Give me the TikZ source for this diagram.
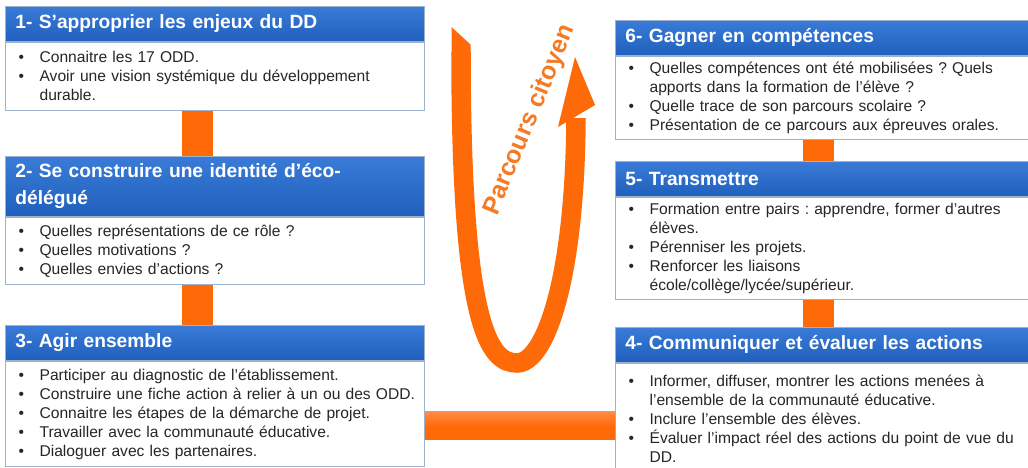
\documentclass[tikz,border=0pt]{standalone}
\usepackage{fontspec}
\setmainfont{Liberation Sans}
\usetikzlibrary{calc}
\definecolor{hdtop}{HTML}{3A7BD8}
\definecolor{hdbot}{HTML}{2060BC}
\definecolor{bord}{HTML}{9CB2CC}
\definecolor{org}{HTML}{FF6A08}
\definecolor{orgl}{HTML}{FF8C45}
\definecolor{orgt}{HTML}{F67A24}
\definecolor{txt}{HTML}{262626}
\newcommand{\li}[1]{\makebox[21pt][l]{•}\mbox{#1}}
\newcommand{\cl}[1]{\hspace*{21pt}\mbox{#1}}
\frenchspacing
\begin{document}
\begin{tikzpicture}[x=1pt,y=-1pt,
 hdr/.style={draw=bord, line width=0.8pt, top color=hdtop, bottom color=hdbot, text=white,
   font=\fontsize{19.2}{27}\selectfont\bfseries, anchor=north west, align=left,
   inner xsep=10pt, inner ysep=0pt},
 bdy/.style={draw=bord, line width=1.2pt, fill=white, text=txt,
   font=\fontsize{15.6}{19}\selectfont\frenchspacing, anchor=north west, align=left,
   inner xsep=13pt, inner ysep=0pt},
 lefth/.style={hdr, text width=399pt},
 leftb/.style={bdy, text width=393pt},
 righth/.style={hdr, text width=400pt},
 rightb/.style={bdy, text width=394pt},
 vbar/.style={org, line width=31pt},
 band/.style={org, line width=19.5pt},
]
\fill[white] (0,0) rectangle (1028,467);
\useasboundingbox (0,0) rectangle (1028,467);

% left column
\node[lefth, minimum height=35pt] (h1) at (5,6) {1- S’approprier les enjeux du DD};
\node[leftb, minimum height=68pt] (b1) at (h1.south west)
 {\li{Connaitre les 17 ODD.}\\ \li{Avoir une vision systémique du développement}\\ \cl{durable.}};
\node[lefth, minimum height=60pt] (h2) at (5,156) {2- Se construire une identité d’éco-\\délégué};
\node[leftb, minimum height=67pt] (b2) at (h2.south west)
 {\li{Quelles représentations de ce rôle ?}\\ \li{Quelles motivations ?}\\ \li{Quelles envies d’actions ?}};
\node[lefth, minimum height=35pt] (h3) at (5,325) {3- Agir ensemble};
\node[leftb, minimum height=105pt] (b3) at (h3.south west)
 {\li{Participer au diagnostic de l’établissement.}\\ \li{Construire une fiche action à relier à un ou des ODD.}\\ \li{Connaitre les étapes de la démarche de projet.}\\ \li{Travailler avec la communauté éducative.}\\ \li{Dialoguer avec les partenaires.}};

% right column
\node[righth, minimum height=35pt] (h6) at (615,20) {6- Gagner en compétences};
\node[rightb, minimum height=83pt] (b6) at (h6.south west)
 {\li{Quelles compétences ont été mobilisées ? Quels}\\ \cl{apports dans la formation de l’élève ?}\\ \li{Quelle trace de son parcours scolaire ?}\\ \li{Présentation de ce parcours aux épreuves orales.}};
\node[righth, minimum height=35pt] (h5) at (615,161) {5- Transmettre};
\node[rightb, minimum height=102pt] (b5) at (h5.south west)
 {\li{Formation entre pairs : apprendre, former d’autres}\\ \cl{élèves.}\\ \li{Pérenniser les projets.}\\ \li{Renforcer les liaisons}\\ \cl{école/collège/lycée/supérieur.}};
\node[righth, minimum height=35pt] (h4) at (615,327) {4- Communiquer et évaluer les actions};
\node[rightb, minimum height=110pt] (b4) at (h4.south west)
 {\li{Informer, diffuser, montrer les actions menées à}\\ \cl{l’ensemble de la communauté éducative.}\\ \li{Inclure l’ensemble des élèves.}\\ \li{Évaluer l’impact réel des actions du point de vue du}\\ \cl{DD.}};

% connectors
\draw[vbar] ([xshift=192.5pt]b1.south west) -- ([xshift=192.5pt]h2.north west);
\draw[vbar] ([xshift=192.5pt]b2.south west) -- ([xshift=192.5pt]h3.north west);
\draw[vbar] ([xshift=203.5pt]b6.south west) -- ([xshift=203.5pt]h5.north west);
\draw[vbar] ([xshift=203.5pt]b5.south west) -- ([xshift=203.5pt]h4.north west);
\shade[top color=orgl, bottom color=org, middle color=org]
 ([yshift=-51pt]b3.north east) rectangle ([yshift=-77pt]b4.north west);

% U arrow
\coordinate (ua) at (461,52);
\coordinate (ub) at (517,363);
\coordinate (uc) at (576,118);
\fill[org] (451.5,27) -- (470.5,44.5) -- (470.5,56) -- (451.5,56) -- cycle;
\draw[band] (ua) .. controls (461,330) and (490,363) .. (ub)
  .. controls (545,363) and (575,280) .. (uc);
\fill[org] (558,127) -- (575,57) -- (595,105) -- cycle;
\node[rotate=67.5, text=orgt, font=\fontsize{25}{25}\selectfont\bfseries] (pc) at (530,120) {Parcours citoyen};
\end{tikzpicture}
\end{document}
